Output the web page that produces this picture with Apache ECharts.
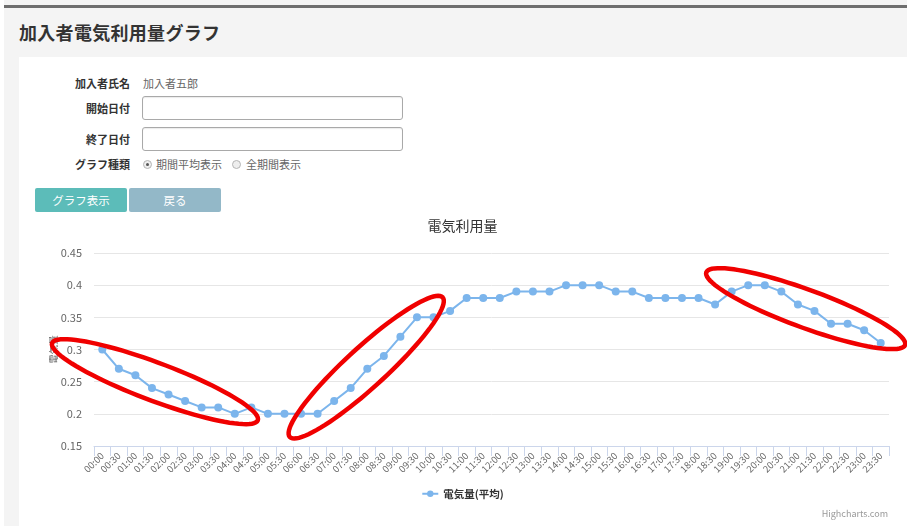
<!DOCTYPE html>
<html>
<head>
<meta charset="utf-8">
<script src="https://cdn.jsdelivr.net/npm/echarts@6/dist/echarts.min.js"></script>
<style>
  html, body { margin:0; padding:0; width:907px; height:526px; overflow:hidden; background:#f4f4f4;
    font-family: "Noto Sans CJK JP", "Noto Sans", sans-serif; color:#333; }
  #topbar { position:absolute; left:4px; top:5px; width:903px; height:3px; background:#6e6e6e; }
  #leftstrip { position:absolute; left:0; top:0; width:4px; height:526px; background:#fff; }
  #pagetitle { position:absolute; left:19px; top:19px; font-size:18px; font-weight:bold; color:#333; letter-spacing:0.3px; }
  #panel { position:absolute; left:19px; top:57px; width:888px; height:469px; background:#fff; }
  .lbl { position:absolute; width:120px; left:10px; text-align:right; font-size:11px; font-weight:bold; color:#333; line-height:14px; }
  .val { position:absolute; font-size:11px; color:#666; line-height:14px; }
  .inp { position:absolute; left:142px; width:261px; height:24px; border:1px solid #a9a9a9; border-radius:3px; background:#fff; box-sizing:border-box; box-shadow: inset 0 1px 1px rgba(0,0,0,0.08); }
  .radio { position:absolute; width:9px; height:9px; border:1px solid #b5b5b5; border-radius:50%; background:#eee; box-sizing:border-box; }
  .radio.on::after { content:""; position:absolute; left:2px; top:2px; width:3px; height:3px; border-radius:50%; background:#555; }
  .btn { position:absolute; top:188px; height:24px; width:92px; border-radius:2px; color:#fff; font-size:11.5px; text-align:center; line-height:24px; }
  #chart { position:absolute; left:18px; top:212px; width:889px; height:314px; }
</style>
</head>
<body>
<div id="leftstrip"></div>
<div id="topbar"></div>
<div id="pagetitle">加入者電気利用量グラフ</div>
<div id="panel"></div>
<div class="lbl" style="top:76px;">加入者氏名</div>
<div class="val" style="left:143px; top:76px;">加入者五郎</div>
<div class="lbl" style="top:101px;">開始日付</div>
<div class="inp" style="top:96px;"></div>
<div class="lbl" style="top:132px;">終了日付</div>
<div class="inp" style="top:127px;"></div>
<div class="lbl" style="top:157px;">グラフ種類</div>
<div class="radio on" style="left:143px; top:160px;"></div>
<div class="val" style="left:156px; top:157px;">期間平均表示</div>
<div class="radio" style="left:232px; top:160px;"></div>
<div class="val" style="left:246px; top:157px;">全期間表示</div>
<div class="btn" style="left:35px; background:#5cbcb9;">グラフ表示</div>
<div class="btn" style="left:129px; background:#93b8c8;">戻る</div>
<div id="chart"></div>
<script>
// ---- data ----
var chartTitle = '電気利用量';
var seriesName = '電気量(平均)';
var yAxisName = '電気量';
var categories = ['00:00','00:30','01:00','01:30','02:00','02:30','03:00','03:30','04:00','04:30',
  '05:00','05:30','06:00','06:30','07:00','07:30','08:00','08:30','09:00','09:30',
  '10:00','10:30','11:00','11:30','12:00','12:30','13:00','13:30','14:00','14:30',
  '15:00','15:30','16:00','16:30','17:00','17:30','18:00','18:30','19:00','19:30',
  '20:00','20:30','21:00','21:30','22:00','22:30','23:00','23:30'];
var usage = [0.30,0.27,0.26,0.24,0.23,0.22,0.21,0.21,0.20,0.21,
  0.20,0.20,0.20,0.20,0.22,0.24,0.27,0.29,0.32,0.35,
  0.35,0.36,0.38,0.38,0.38,0.39,0.39,0.39,0.40,0.40,
  0.40,0.39,0.39,0.38,0.38,0.38,0.38,0.37,0.39,0.40,
  0.40,0.39,0.37,0.36,0.34,0.34,0.33,0.31];
var yMin = 0.15, yMax = 0.45, yStep = 0.05;
// annotation ellipses: two tips in (category index, value) and half-width in px
var ellipseTipsA = [[-3.03, 0.31], [9.39, 0.19]];
var ellipseTipsB = [[11.32, 0.164], [20.55, 0.381]];
var ellipseTipsC = [[36.47, 0.420], [48.47, 0.307]];
var ellipseHalfWidths = [19, 20, 19];

var chart = echarts.init(document.getElementById('chart'));
var font = '"Noto Sans CJK JP", "Lucida Grande", sans-serif';
chart.setOption({
  animation: false,
  textStyle: { fontFamily: font },
  title: { text: chartTitle, left: 'center', top: 2,
    textStyle: { fontSize: 14, fontWeight: 'normal', color: '#333', fontFamily: font } },
  grid: { left: 76, right: 18, top: 41, bottom: 80 },
  xAxis: {
    type: 'category', data: categories, boundaryGap: true,
    axisLine: { lineStyle: { color: '#ccd6eb' } },
    axisTick: { show: true, length: 10, lineStyle: { color: '#ccd6eb' } },
    axisLabel: { interval: 0, rotate: 45, fontSize: 9.5, color: '#666', margin: 8, fontFamily: font }
  },
  yAxis: {
    type: 'value', min: yMin, max: yMax, interval: yStep,
    name: yAxisName, nameLocation: 'middle', nameGap: 36, nameMoveOverlap: false,
    nameTextStyle: { fontSize: 9.5, color: '#666' },
    axisLine: { show: false }, axisTick: { show: false },
    axisLabel: { fontSize: 11, color: '#666', margin: 12 },
    splitLine: { lineStyle: { color: '#e6e6e6' } }
  },
  legend: { bottom: 22, left: 'center', itemWidth: 16, itemHeight: 8, itemGap: 8,
    textStyle: { fontSize: 10.5, fontWeight: 'bold', color: '#333' }, data: [seriesName] },
  series: [{
    name: seriesName, type: 'line', data: usage,
    symbol: 'circle', symbolSize: 8,
    lineStyle: { color: '#7cb5ec', width: 2 },
    itemStyle: { color: '#7cb5ec' }
  }]
});

function px(ci, v) {
  var a = chart.convertToPixel({ xAxisIndex: 0, yAxisIndex: 0 }, [0, yMin]);
  var b = chart.convertToPixel({ xAxisIndex: 0, yAxisIndex: 0 }, [1, yMax]);
  return [a[0] + (b[0] - a[0]) * ci, a[1] + (b[1] - a[1]) * (v - yMin) / (yMax - yMin)];
}
function ellipsePoints(tips, hw) {
  var p1 = px(tips[0][0], tips[0][1]), p2 = px(tips[1][0], tips[1][1]);
  var cx = (p1[0] + p2[0]) / 2, cy = (p1[1] + p2[1]) / 2;
  var ang = Math.atan2(p2[1] - p1[1], p2[0] - p1[0]);
  var a = Math.hypot(p2[0] - p1[0], p2[1] - p1[1]) / 2;
  var pts = [];
  for (var k = 0; k < 90; k++) {
    var t = k / 90 * Math.PI * 2;
    var ex = a * Math.cos(t), ey = hw * Math.sin(t);
    pts.push([cx + ex * Math.cos(ang) - ey * Math.sin(ang), cy + ex * Math.sin(ang) + ey * Math.cos(ang)]);
  }
  return pts;
}
var allTips = [ellipseTipsA, ellipseTipsB, ellipseTipsC];
var graphics = allTips.map(function (t, i) {
  return { type: 'polygon', shape: { points: ellipsePoints(t, ellipseHalfWidths[i]) },
    style: { fill: 'none', stroke: '#f00000', lineWidth: 4.5 }, z: 100 };
});
graphics.push({ type: 'text', right: 19, bottom: 8,
  style: { text: 'Highcharts.com', fill: '#999', font: '9px ' + font } });
chart.setOption({ graphic: graphics });
</script>
</body>
</html>
